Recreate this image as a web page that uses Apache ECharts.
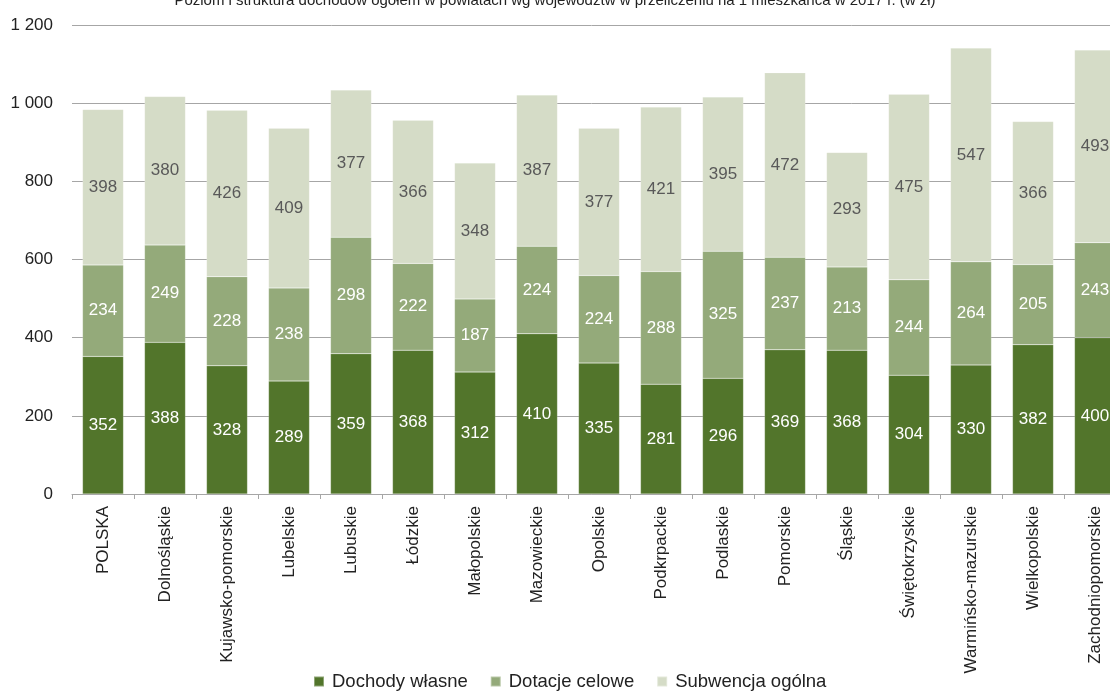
<!DOCTYPE html>
<html><head><meta charset="utf-8">
<script src="https://cdn.jsdelivr.net/npm/echarts@6/dist/echarts.min.js"></script>
<style>html,body{margin:0;padding:0;background:#fff}#c{width:1110px;height:693px}</style>
</head><body><div id="c"></div>
<script>
const categories = ["POLSKA","Dolnośląskie","Kujawsko-pomorskie","Lubelskie","Lubuskie","Łódzkie","Małopolskie","Mazowieckie","Opolskie","Podkrpackie","Podlaskie","Pomorskie","Śląskie","Świętokrzyskie","Warmińsko-mazurskie","Wielkopolskie","Zachodniopomorskie"];
const dochodyWlasne = [352,388,328,289,359,368,312,410,335,281,296,369,368,304,330,382,400];
const dotacjeCelowe = [234,249,228,238,298,222,187,224,224,288,325,237,213,244,264,205,243];
const subwencjaOgolna = [398,380,426,409,377,366,348,387,377,421,395,472,293,475,547,366,493];
const seriesNames = ["Dochody własne","Dotacje celowe","Subwencja ogólna"];
const titleText = "Poziom i struktura dochodów ogółem w powiatach wg województw w przeliczeniu na 1 mieszkańca w 2017 r. (w zł)";

const FONT = "'Liberation Sans Narrow','Liberation Sans',Arial,sans-serif";
const colors = ["#52752b","#94aa7a","#d5dcc7"];
const labelColors = ["#ffffff","#ffffff","#595959"];
const datasets = [dochodyWlasne, dotacjeCelowe, subwencjaOgolna];

const chart = echarts.init(document.getElementById('c'), null, {renderer:'canvas'});
chart.setOption({
  animation:false,
  textStyle:{fontFamily:FONT},
  title:{text:titleText,left:'center',top:-7,padding:0,
    textStyle:{fontFamily:FONT,fontSize:15,fontWeight:'normal',color:'#222'}},
  legend:{bottom:-3,left:308,itemWidth:10,itemHeight:10,itemGap:22,icon:'rect',
    textStyle:{fontFamily:FONT,fontSize:18.5,color:'#222',padding:[0,0,0,3]},
    data:seriesNames},
  grid:{left:72,top:25,width:1054,height:469,containLabel:false,outerBoundsMode:'none'},
  xAxis:{type:'category',data:categories,
    axisLine:{lineStyle:{color:'#a6a6a6',width:1}},
    axisTick:{show:true,length:5,lineStyle:{color:'#a6a6a6'}},
    axisLabel:{rotate:90,interval:0,margin:12,fontFamily:FONT,fontSize:17,color:'#222'}},
  yAxis:{type:'value',min:0,max:1200,interval:200,
    axisLine:{show:false},axisTick:{show:false},
    splitLine:{lineStyle:{color:'#a6a6a6',width:1}},
    axisLabel:{margin:19,fontFamily:FONT,fontSize:17,color:'#222',
      formatter:v=>v>=1000?String(v).replace(/\B(?=(\d{3})+(?!\d))/g,' '):String(v)}},
  series: datasets.map((d,i)=>({
    name:seriesNames[i],type:'bar',stack:'t',data:d,barWidth:41,
    itemStyle:{color:colors[i],borderColor:'rgba(255,255,255,0.35)',borderWidth:0.5},
    label:{show:true,position:'inside',fontFamily:FONT,fontSize:17,color:labelColors[i]}
  }))
});
</script></body></html>
